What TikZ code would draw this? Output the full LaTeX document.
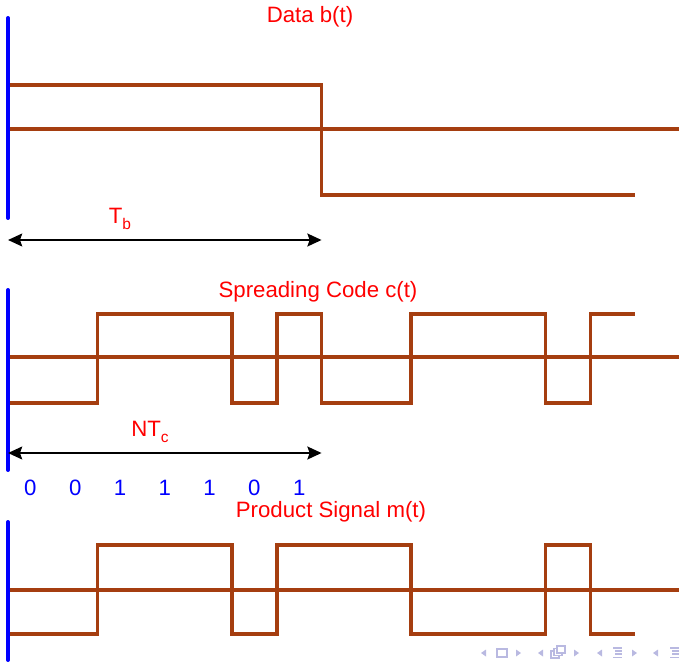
\documentclass[tikz,border=0pt]{standalone}
\usepackage{fontspec}
\setmainfont{Liberation Sans}
\usepackage{tikz}
\usetikzlibrary{arrows.meta}
\usepackage{xcolor}
\definecolor{wave}{RGB}{165,62,16}
\definecolor{navgray}{RGB}{185,185,225}

\tikzset{
  waveline/.style={draw=wave, line width=2.6pt},
  axisline/.style={draw=blue, line width=2.8pt, line cap=round},
  spanarrow/.style={{Stealth[length=10pt,width=9pt,inset=1.5pt]}-{Stealth[length=10pt,width=9pt,inset=1.5pt]}, line width=1.9pt, black},
  title/.style={font=\fontsize{15.8}{18}\selectfont, text=red, inner sep=1pt},
  navsym/.style={fill=navgray, draw=none}
}

\newcommand{\subtxt}[1]{\raisebox{-0.55ex}{\fontsize{11}{13}\selectfont #1}}

\begin{document}
\begin{tikzpicture}[x=0.025cm, y=-0.025cm]

  \useasboundingbox (0,0) rectangle (679,665);

  % Data b(t)
  \node[title] (datatitle) at (310,17) {Data b(t)};
  \draw[waveline] (8,129) -- (679,129);
  \draw[waveline] (8,85) -- (321.6,85) -- (321.6,195) -- (635.2,195);
  \draw[axisline] (8,18) -- (8,218);
  \node[title] (tblabel) at (120,219) {T\subtxt{b}};
  \coordinate (tbL) at (8,240);
  \coordinate (tbR) at (321.6,240);
  \draw[spanarrow] (tbL) -- (tbR);

  % Spreading code c(t)
  \node[title] (codetitle) at (318,292) {Spreading Code c(t)};
  \draw[waveline] (8,357) -- (679,357);
  \draw[waveline] (8,403) -- (97.6,403) -- (97.6,314) -- (232,314) -- (232,403)
    -- (276.8,403) -- (276.8,314) -- (321.6,314) -- (321.6,403) -- (411.2,403)
    -- (411.2,314) -- (545.6,314) -- (545.6,403) -- (590.4,403) -- (590.4,314)
    -- (635.2,314);
  \draw[axisline] (8,290) -- (8,470);
  \node[title] (nclabel) at (150,432) {NT\subtxt{c}};
  \coordinate (ncL) at (8,453);
  \coordinate (ncR) at (321.6,453);
  \draw[spanarrow] (ncL) -- (ncR);

  % chip values
  \foreach \i/\bit in {0/0, 1/0, 2/1, 3/1, 4/1, 5/0, 6/1}{
    \node[title, text=blue] (chip\i) at ({30.4+\i*44.8}, 488) {\bit};
  }

  % Product signal m(t)
  \node[title] (prodtitle) at (331,512) {Product Signal m(t)};
  \draw[waveline] (8,590) -- (679,590);
  \draw[waveline] (8,634) -- (97.6,634) -- (97.6,545) -- (232,545) -- (232,634)
    -- (276.8,634) -- (276.8,545) -- (411.2,545) -- (411.2,634) -- (545.6,634)
    -- (545.6,545) -- (590.4,545) -- (590.4,634) -- (635.2,634);
  \draw[axisline] (8,522) -- (8,660);

  % Navigation symbols
  \foreach \x in {486, 543, 602, 658}{
    \fill[navsym] (\x,649.5) -- (\x,656.5) -- ({\x-5},653) -- cycle;
  }
  \foreach \x in {516, 574, 632}{
    \fill[navsym] (\x,649.5) -- (\x,656.5) -- ({\x+5},653) -- cycle;
  }
  \draw[navgray, line width=1pt] (497,649) rectangle (507,657);
  \draw[navgray, line width=1pt] (551,651) rectangle (559,658);
  \draw[navgray, line width=1pt, fill=white] (554,648.5) rectangle (562,655.5);
  \draw[navgray, line width=1pt, fill=white] (557,646) rectangle (565,653);
  \foreach \x in {613, 670}{
    \draw[navgray, line width=1pt] (\x,648) -- ({\x+9},648);
    \draw[navgray, line width=1pt] ({\x+2},651) -- ({\x+9},651);
    \draw[navgray, line width=1pt] ({\x+2},654) -- ({\x+9},654);
    \draw[navgray, line width=1pt] (\x,657.5) -- ({\x+9},657.5);
  }

\end{tikzpicture}
\end{document}
